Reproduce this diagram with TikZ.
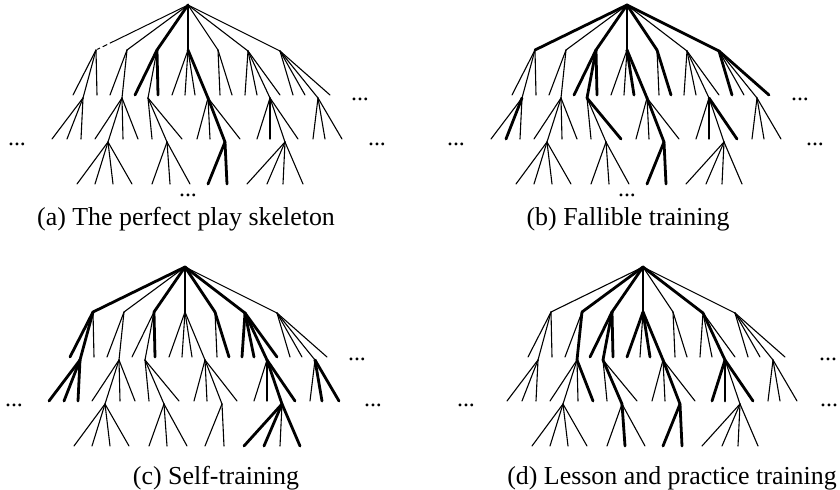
\documentclass[tikz,border=0pt]{standalone}
\usepackage{fontspec}
\setmainfont{Liberation Serif}
\tikzset{
  thinedge/.style={line width=1.1bp, line cap=round},
  thickedge/.style={line width=2.8bp, line cap=round, line join=round},
  brokenedge/.style={line width=1bp, dash pattern=on 87bp off 3bp on 5bp off 3bp on 3bp},
  caption/.style={anchor=base, inner sep=0pt, font=\fontsize{26}{30}\selectfont},
  ellip/.style={inner sep=0pt, font=\fontsize{24}{28}\selectfont},
}
% Game tree: root, seven moves, and a few deeper lines of play
\newcommand\placetree[3]{%
  \begin{scope}[shift={(#2,#3)}]
    \coordinate (#1R) at (188,5);
    \coordinate (#1A1) at (96,50);  \coordinate (#1A2) at (127,50);
    \coordinate (#1A3) at (157,50); \coordinate (#1A4) at (188,50);
    \coordinate (#1A5) at (218,50); \coordinate (#1A6) at (248,51);
    \coordinate (#1A7) at (280,51);
    % second level
    \coordinate (#1B11) at (73,95);  \coordinate (#1B12) at (83,98);  \coordinate (#1B13) at (97,95);
    \coordinate (#1B21) at (110,95); \coordinate (#1B22) at (122,98);
    \coordinate (#1B31) at (135,95); \coordinate (#1B32) at (148,98); \coordinate (#1B33) at (158,95);
    \coordinate (#1B41) at (172,95); \coordinate (#1B42) at (185,95);
    \coordinate (#1B43) at (195,95); \coordinate (#1B44) at (208,98);
    \coordinate (#1B51) at (220,95); \coordinate (#1B52) at (232,95);
    \coordinate (#1B61) at (245,95); \coordinate (#1B62) at (257,95);
    \coordinate (#1B63) at (270,98); \coordinate (#1B64) at (280,95);
    \coordinate (#1B71) at (293,95); \coordinate (#1B72) at (305,95);
    \coordinate (#1B73) at (318,98); \coordinate (#1B74) at (330,95);
    % third level
    \coordinate (#1C121) at (52,139); \coordinate (#1C122) at (67,139); \coordinate (#1C123) at (81,139);
    \coordinate (#1C221) at (95,139); \coordinate (#1C222) at (108,142);
    \coordinate (#1C223) at (123,139); \coordinate (#1C224) at (138,139);
    \coordinate (#1C321) at (152,139); \coordinate (#1C322) at (167,142); \coordinate (#1C323) at (182,139);
    \coordinate (#1C441) at (197,139); \coordinate (#1C442) at (210,139);
    \coordinate (#1C443) at (225,142); \coordinate (#1C444) at (240,139);
    \coordinate (#1C631) at (257,139); \coordinate (#1C632) at (270,139);
    \coordinate (#1C633) at (285,142); \coordinate (#1C634) at (298,139);
    \coordinate (#1C731) at (313,139); \coordinate (#1C732) at (325,139); \coordinate (#1C733) at (342,139);
    % fourth level
    \coordinate (#1D21) at (77,184);  \coordinate (#1D22) at (95,184);
    \coordinate (#1D23) at (113,184); \coordinate (#1D24) at (132,184);
    \coordinate (#1D31) at (152,184); \coordinate (#1D32) at (170,184); \coordinate (#1D33) at (190,184);
    \coordinate (#1D41) at (208,184); \coordinate (#1D42) at (227,184);
    \coordinate (#1D61) at (247,184); \coordinate (#1D62) at (267,184);
    \coordinate (#1D63) at (283,184); \coordinate (#1D64) at (303,184);
  \end{scope}}
% All edges thin (except root to first move), then the highlighted ones bold
\newcommand\edgestree[2]{%
  \foreach \p/\c in {R/A2,R/A3,R/A4,R/A5,R/A6,R/A7,
      A1/B11,A1/B12,A1/B13,A2/B21,A2/B22,A3/B31,A3/B32,A3/B33,
      A4/B41,A4/B42,A4/B43,A4/B44,A5/B51,A5/B52,
      A6/B61,A6/B62,A6/B63,A6/B64,A7/B71,A7/B72,A7/B73,A7/B74,
      B12/C121,B12/C122,B12/C123,B22/C221,B22/C222,B22/C223,B22/C224,
      B32/C321,B32/C322,B32/C323,B44/C441,B44/C442,B44/C443,B44/C444,
      B63/C631,B63/C632,B63/C633,B63/C634,B73/C731,B73/C732,B73/C733,
      C222/D21,C222/D22,C222/D23,C222/D24,C322/D31,C322/D32,C322/D33,
      C443/D41,C443/D42,C633/D61,C633/D62,C633/D63,C633/D64}
    \draw[thinedge] (#1\p) -- (#1\c);
  \foreach \p/\c in {#2}
    \draw[thickedge] (#1\p) -- (#1\c);}
\begin{document}
\begin{tikzpicture}[x=1bp, y=-1bp]
\useasboundingbox (0,0) rectangle (840,490);
\fill[white] (0,0) rectangle (840,490);

% (a) the perfect play skeleton
\placetree{a}{0}{0}
\draw[brokenedge] (aR) -- (aA1);
\edgestree{a}{R/A3,R/A4,A3/B31,A3/B33,A4/B44,B44/C443,C443/D41,C443/D42}
\node[ellip] (adotsup) at (360,99) {...};
\node[ellip] (adotsl) at (17,144) {...};
\node[ellip] (adotsr) at (377,144) {...};
\node[ellip] (adotsb) at (188,195) {...};
\node[caption] (capa) at (186,226) {(a) The perfect play skeleton};

% (b) fallible training
\placetree{b}{439}{0}
\draw[thickedge] (bR) -- (bA1);
\edgestree{b}{R/A3,R/A4,R/A5,R/A7,B12/C122,A3/B31,A3/B32,A3/B33,B32/C323,
  A4/B43,A4/B44,B44/C443,C443/D41,C443/D42,A5/B52,B63/C634,A7/B71,A7/B74}
\node[ellip] (bdotsup) at (800,99) {...};
\node[ellip] (bdotsl) at (456,144) {...};
\node[ellip] (bdotsr) at (815,144) {...};
\node[ellip] (bdotsb) at (627,195) {...};
\node[caption] (capb) at (628,226) {(b) Fallible training};

% (c) self-training
\placetree{c}{-3}{262}
\draw[thickedge] (cR) -- (cA1);
\edgestree{c}{R/A3,R/A5,R/A6,A1/B11,A1/B12,B12/C121,B12/C122,B12/C123,A3/B33,
  A5/B52,A6/B61,A6/B62,A6/B63,A6/B64,B63/C633,B63/C634,C633/D61,C633/D62,C633/D64,
  B73/C732,B73/C733}
\node[ellip] (cdotsup) at (357,359) {...};
\node[ellip] (cdotsl) at (14,405) {...};
\node[ellip] (cdotsr) at (373,405) {...};
\node[caption] (capc) at (216,484) {(c) Self-training};

% (d) lesson and practice training
\placetree{d}{455}{262}
\draw[thinedge] (dR) -- (dA1);
\edgestree{d}{R/A2,R/A3,R/A4,R/A6,A2/B22,B22/C224,A3/B31,A3/B32,A3/B33,B32/C322,
  C322/D32,A4/B41,A4/B43,A4/B44,B44/C443,C443/D41,C443/D42,A6/B63,
  B63/C631,B63/C632,B63/C634}
\node[ellip] (ddotsup) at (828,359) {...};
\node[ellip] (ddotsl) at (466,405) {...};
\node[ellip] (ddotsr) at (829,405) {...};
\node[caption] (capd) at (672,484) {(d) Lesson and practice training};
\end{tikzpicture}
\end{document}
